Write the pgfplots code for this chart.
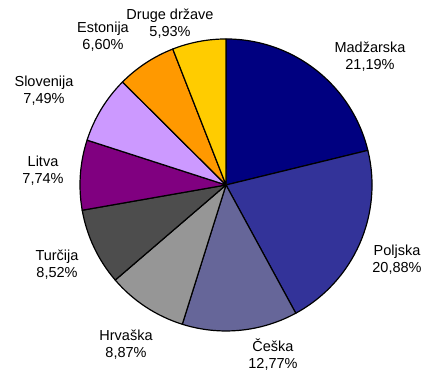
\documentclass[border=0pt]{standalone}
\usepackage{fontspec}
\setmainfont{Liberation Sans}
\usepackage{pgfplots}
\usepackage{pgfplotstable}
\pgfplotsset{compat=1.18}
\pgfkeys{/pgf/number format/assume math mode=true}

\definecolor{c1}{HTML}{000080}
\definecolor{c2}{HTML}{333399}
\definecolor{c3}{HTML}{666699}
\definecolor{c4}{HTML}{969696}
\definecolor{c5}{HTML}{4D4D4D}
\definecolor{c6}{HTML}{800080}
\definecolor{c7}{HTML}{CC99FF}
\definecolor{c8}{HTML}{FF9900}
\definecolor{c9}{HTML}{FFCC00}

% share (%), slice colour, label centre in pixels of the reference
\pgfplotstableread[col sep=comma]{
name,value,col,lx,ly
Madžarska,21.19,c1,370,57
Poljska,20.88,c2,397,260
Češka,12.77,c3,273,355
Hrvaška,8.87,c4,126,345
Turčija,8.52,c5,57,265
Litva,7.74,c6,43,171
Slovenija,7.49,c7,44,91
Estonija,6.60,c8,103,37
Druge države,5.93,c9,170,24
}\piedata

\tikzset{lbl/.style={align=center, inner sep=0pt, font=\fontsize{14.5bp}{17bp}\selectfont}}

\begin{document}
\begin{tikzpicture}
\begin{axis}[
    x=146bp, y=146bp,
    xmin=-1.548, xmax=1.363,
    ymin=-1.260, ymax=1.267,
    hide axis, clip=false,
]
\path (axis cs:-1.548,-1.260) rectangle (axis cs:1.363,1.267);
\def\sliceacc{90}
\pgfplotsforeachungrouped \i in {0,...,8}{
    \pgfplotstablegetelem{\i}{value}\of\piedata \let\sliceval\pgfplotsretval
    \pgfplotstablegetelem{\i}{col}\of\piedata \let\slicecol\pgfplotsretval
    \pgfplotstablegetelem{\i}{name}\of\piedata \let\slicename\pgfplotsretval
    \pgfplotstablegetelem{\i}{lx}\of\piedata \let\slicelx\pgfplotsretval
    \pgfplotstablegetelem{\i}{ly}\of\piedata \let\slicely\pgfplotsretval
    \pgfmathsetmacro\sliceend{\sliceacc-3.6*\sliceval}
    \edef\tmp{\noexpand\draw[fill=\slicecol, line width=1.2bp, line join=round]
        (axis cs:0,0) -- (axis cs:{cos(\sliceacc)},{sin(\sliceacc)})
        arc[start angle=\sliceacc, end angle=\sliceend, radius=146bp] -- cycle;
        \noexpand\node[lbl] at (axis cs:{(\slicelx-226)/146},{(185-\slicely)/146})
        {\slicename\noexpand\\\noexpand\pgfmathprintnumber[fixed,fixed zerofill,precision=2,use comma]{\sliceval}\noexpand\%};}
    \tmp
    \let\sliceacc\sliceend
}
\end{axis}
\end{tikzpicture}
\end{document}
